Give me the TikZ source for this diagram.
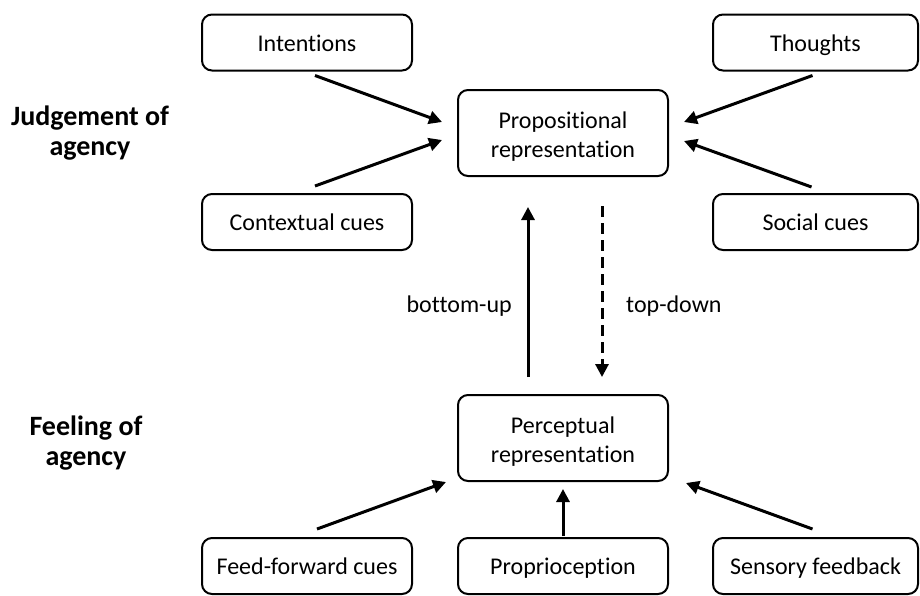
\documentclass[tikz,border=0pt]{standalone}
\usepackage{fontspec}
\setmainfont[Ligatures=NoCommon]{Carlito}
\usetikzlibrary{positioning}
\usetikzlibrary{arrows.meta}

% two lines in a tall box, with fixed first height and last depth
\newcommand\twolines[2]{\rule{0pt}{25pt}#1\\#2\rule[-6pt]{0pt}{6pt}}

\begin{document}
\begin{tikzpicture}
    [x=1pt,y=-1pt,every node/.style={font=\fontsize{24}{29}\selectfont,align=center}]

    \tikzstyle{box}    = [draw,line width=2pt,rounded corners=10pt,minimum width=210pt,minimum height=56pt,
                          inner sep=0pt,text height=19pt,text depth=2pt]
    \tikzstyle{bigbox} = [draw,line width=2pt,rounded corners=10pt,minimum width=210pt,minimum height=86pt,inner sep=0pt]
    \tikzstyle{rbox}   = [box,minimum width=205pt]
    \tikzstyle{label}  = [inner sep=0pt]
    \tikzstyle{level}  = [label,font=\fontsize{28}{30}\selectfont\bfseries]
    \tikzstyle{arr}    = [line width=3pt,-{Triangle[length=13pt,width=13pt]}]

    \useasboundingbox (0,0) rectangle (920,595);

    \node [bigbox] (prop) at (563,133) {\twolines{Propositional}{representation}} ;
    \node [box]  (intent)  at (307,42.5)   {Intentions} ;
    \node [box]  (context) at (307,222)    {Contextual cues} ;
    \node [rbox] (thought) at (815.5,42.5) {Thoughts} ;
    \node [rbox] (social)  at (815.5,222)  {Social cues} ;

    \node [bigbox,below=217pt of prop] (perc) {\twolines{Perceptual}{representation}} ;
    \node [box,below=55pt of perc] (proprio) {Proprioception} ;
    \node [box]  (feedfwd) at (307,566)    {Feed-forward cues} ;
    \node [rbox] (sensory) at (815.5,566)  {Sensory feedback} ;

    \draw [arr] ([shift={(8,4)}]intent.south)    -- ([shift={(-15,-11)}]prop.west) ;
    \draw [arr] ([shift={(8,-7)}]context.north)  -- ([shift={(-15,7)}]prop.west) ;
    \draw [arr] ([shift={(-3,4)}]thought.south)  -- ([shift={(15,-11)}]prop.east) ;
    \draw [arr] ([shift={(-4,-6)}]social.north)  -- ([shift={(15,8)}]prop.east) ;

    \draw [arr] ([shift={(-35,-17)}]perc.north) -- ([shift={(-35,30)}]prop.south) ;
    \draw [arr,dash pattern=on 11pt off 6pt]
          ([shift={(39,29)}]prop.south) -- ([shift={(39,-17)}]perc.north) ;

    \draw [arr] ([shift={(10,-8)}]feedfwd.north) -- ([shift={(-11,0)}]perc.south west) ;
    \draw [arr] ([shift={(0,-1)}]proprio.north)  -- ([shift={(0,7)}]perc.south) ;
    \draw [arr] ([shift={(-3,-8)}]sensory.north) -- ([shift={(17,1)}]perc.south east) ;

    \node [label,anchor=east] (bu) at (512,306) {bottom-up} ;
    \node [label,anchor=west] (td) at (626,306) {top-down} ;

    \node [level] (judge) at (90,133) {Judgement of\\agency} ;
    \node [level] (feel)  at (86,443) {Feeling of\\agency} ;
  \end{tikzpicture}
\end{document}
